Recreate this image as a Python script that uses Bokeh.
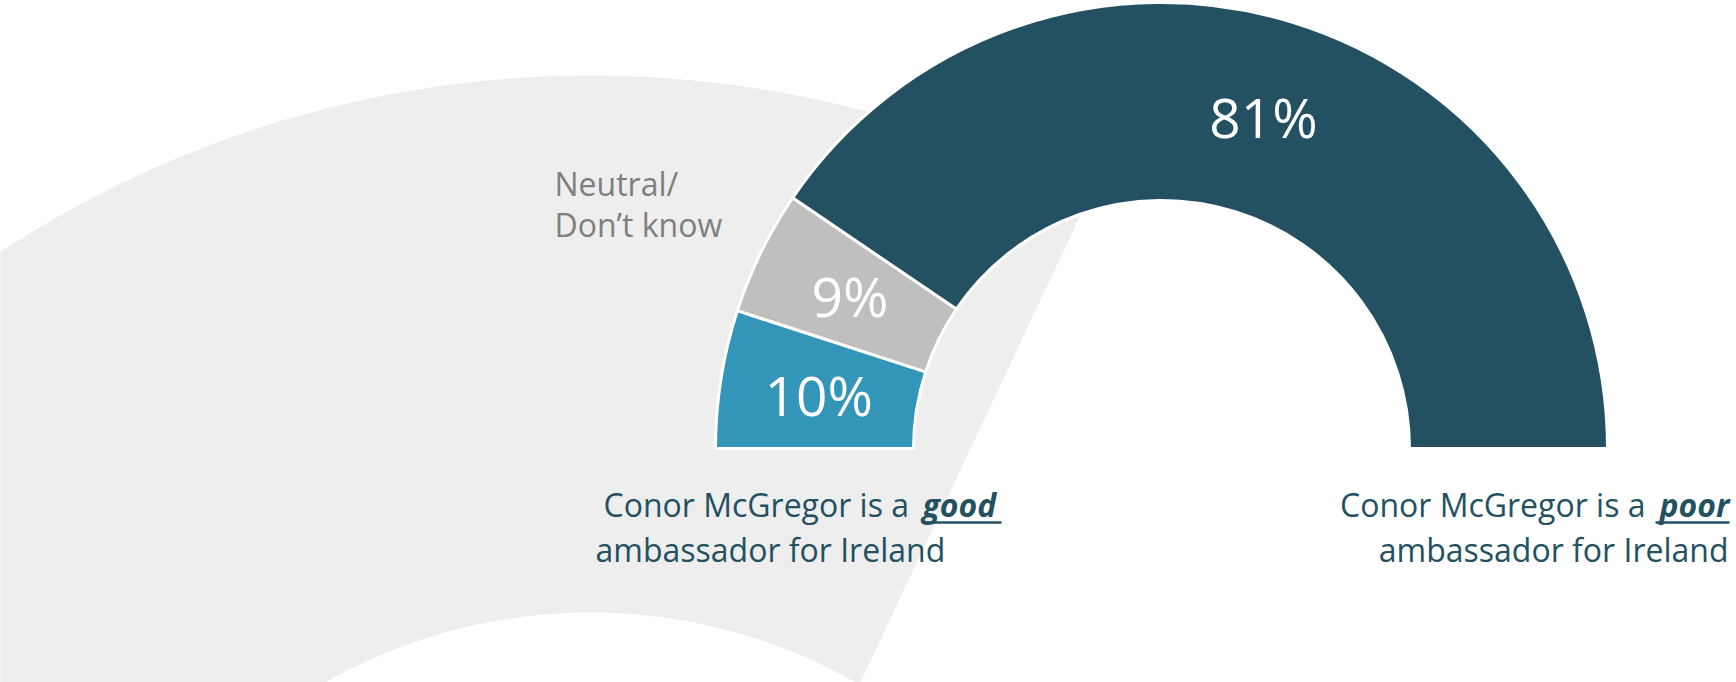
import numpy as np
from bokeh.plotting import figure
from bokeh.models import Range1d, ColumnDataSource
from bokeh.embed import file_html
from bokeh.resources import INLINE
from bokeh.core.properties import value

# ---------------- data ----------------
categories = ["good", "neutral", "poor"]
shares = [10, 9, 81]
share_labels = ["10%", "9%", "81%"]
colors = ["#3395B7", "#BFBFBF", "#235161"]
neutral_lines = ["Neutral/", "Don\u2019t know"]
good_lines = ["Conor McGregor is a", "good", "ambassador for Ireland"]
poor_lines = ["Conor McGregor is a", "poor", "ambassador for Ireland"]

# ---------------- layout ----------------
W, H = 1736, 682
FONT = "Open Sans"
TEAL = "#235161"


def Y(py):
    return H - py


p = figure(width=W, height=H, x_range=Range1d(0, W), y_range=Range1d(0, H),
           output_backend="svg", toolbar_location=None, min_border=0)
p.axis.visible = False
p.grid.visible = False
p.outline_line_color = None
p.background_fill_color = "white"
p.border_fill_color = "white"

# ---------------- decorative background ring ----------------
C = np.array([590.0, Y(1150)])
R_bg, r_bg = 1075.0, 538.0
A = np.array([900.0, Y(596.7)])
B = np.array([1076.7, Y(221.7)])


def circle_line_upper(c, rad, a, b):
    d = b - a
    f = a - c
    qa = d @ d
    qb = 2 * (f @ d)
    qc = f @ f - rad * rad
    s = np.sqrt(qb * qb - 4 * qa * qc)
    pts = [a + t * d for t in ((-qb - s) / (2 * qa), (-qb + s) / (2 * qa))]
    return max(pts, key=lambda q: q[1])


Po = circle_line_upper(C, R_bg, A, B)
Pi = circle_line_upper(C, r_bg, A, B)
th_o = np.arctan2(Po[1] - C[1], Po[0] - C[0])
th_i = np.arctan2(Pi[1] - C[1], Pi[0] - C[0])
t_out = np.linspace(th_o, np.pi, 300)
t_in = np.linspace(np.pi, th_i, 300)
bg_x = np.concatenate([C[0] + R_bg * np.cos(t_out), C[0] + r_bg * np.cos(t_in)])
bg_y = np.concatenate([C[1] + R_bg * np.sin(t_out), C[1] + r_bg * np.sin(t_in)])
p.patch(bg_x, bg_y, fill_color="#EEEEEE", line_color=None)

# ---------------- half donut ----------------
cx, cy = 1161.0, Y(448)
R_out, R_in = 446.0, 248.0
deg = np.array(shares, dtype=float) / sum(shares) * 180.0
ends = 180.0 - np.concatenate([[0.0], np.cumsum(deg)[:-1]])
starts = ends - deg
mids = np.radians((starts + ends) / 2)
lab_r = (R_out + R_in) / 2

src = ColumnDataSource(dict(
    cat=categories, start=np.radians(starts), end=np.radians(ends), color=colors,
    lx=cx + lab_r * np.cos(mids), ly=cy + lab_r * np.sin(mids), label=share_labels,
))
p.annular_wedge(x=cx, y=cy, inner_radius=R_in, outer_radius=R_out,
                start_angle="start", end_angle="end", fill_color="color",
                line_color="white", line_width=3, source=src)
p.text(x="lx", y="ly", text="label", source=src, text_align="center", text_baseline="middle",
       text_font=value(FONT), text_font_size="55px", text_color="white")

# ---------------- annotations ----------------
common = dict(text_baseline="middle", text_font=value(FONT))

p.text(x=[554, 554], y=[Y(183), Y(224)], text=neutral_lines, text_align="left",
       text_font_size="32px", text_color="#7F7F7F", **common)

# left caption
p.text(x=[603], y=[Y(503.5)], text=[good_lines[0]], text_align="left",
       text_font_size="32px", text_color=TEAL, **common)
p.text(x=[922], y=[Y(503.5)], text=[good_lines[1]], text_align="left",
       text_font_size="32px", text_color=TEAL, text_font_style="bold italic", **common)
p.segment(x0=[922], y0=[Y(522)], x1=[1001], y1=[Y(522)], line_color=TEAL, line_width=2.5)
p.text(x=[595], y=[Y(548.5)], text=[good_lines[2]], text_align="left",
       text_font_size="32px", text_color=TEAL, **common)

# right caption
p.text(x=[1645], y=[Y(503.5)], text=[poor_lines[0]], text_align="right",
       text_font_size="32px", text_color=TEAL, **common)
p.text(x=[1729], y=[Y(503.5)], text=[poor_lines[1]], text_align="right",
       text_font_size="32px", text_color=TEAL, text_font_style="bold italic", **common)
p.segment(x0=[1655], y0=[Y(522)], x1=[1729], y1=[Y(522)], line_color=TEAL, line_width=2.5)
p.text(x=[1728], y=[Y(548.5)], text=[poor_lines[2]], text_align="right",
       text_font_size="32px", text_color=TEAL, **common)

open("out.html", "w").write(file_html(p, INLINE))
